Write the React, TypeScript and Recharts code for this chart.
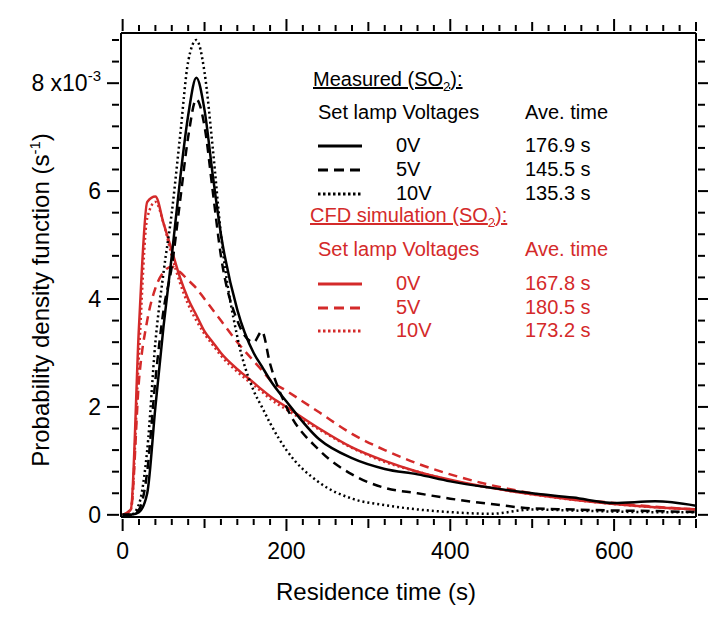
import { LineChart, Line, XAxis, YAxis } from "recharts";

const times = [0, 10, 20, 30, 40, 50, 60, 70, 80, 90, 100, 110, 120, 140, 160, 170, 180, 200, 240, 280, 320, 360, 400, 450, 500, 550, 600, 650, 700];
const meas0V = [0, 0, 0.05, 0.4, 2, 3.5, 4.8, 6.2, 7.4, 8.1, 7.5, 6.3, 5.2, 3.8, 3.0, 2.75, 2.5, 2.1, 1.4, 1.05, 0.85, 0.75, 0.62, 0.5, 0.4, 0.32, 0.22, 0.25, 0.17];
const meas5V = [0, 0, 0.1, 0.8, 2.5, 3.8, 4.6, 5.8, 7.0, 7.7, 7.2, 6.0, 4.8, 3.6, 3.2, 3.4, 2.8, 2.0, 1.2, 0.75, 0.5, 0.4, 0.3, 0.2, 0.12, 0.1, 0.08, 0.07, 0.05];
const meas10V = [0, 0, 0.2, 1.2, 3.2, 4.5, 5.6, 7.0, 8.4, 8.8, 8.2, 6.8, 5.2, 3.3, 2.3, 2.0, 1.7, 1.2, 0.6, 0.3, 0.18, 0.1, 0.05, 0.02, 0.1, 0.08, 0.06, 0.05, 0.05];
const cfd0V = [0, 0.1, 3.5, 5.8, 5.9, 5.4, 4.9, 4.4, 4.0, 3.7, 3.4, 3.2, 3.0, 2.7, 2.45, 2.32, 2.2, 2.0, 1.6, 1.25, 1.0, 0.8, 0.65, 0.5, 0.38, 0.28, 0.2, 0.14, 0.1];
const cfd5V = [0, 0.1, 2.5, 3.6, 4.2, 4.5, 4.6, 4.5, 4.35, 4.2, 4.0, 3.8, 3.6, 3.2, 2.85, 2.68, 2.5, 2.3, 1.9, 1.5, 1.2, 0.95, 0.75, 0.55, 0.4, 0.3, 0.22, 0.15, 0.1];
const cfd10V = [0, 0.1, 3.0, 5.5, 5.8, 5.4, 4.8, 4.3, 3.9, 3.6, 3.35, 3.15, 2.95, 2.65, 2.4, 2.28, 2.15, 1.95, 1.58, 1.24, 0.98, 0.8, 0.64, 0.5, 0.38, 0.28, 0.2, 0.14, 0.1];

const xTicks = Array.from({ length: 36 }, (_, i) => i * 20);
const yTicks = Array.from({ length: 23 }, (_, i) => Math.round(i * 4) / 10);
const xLabels = [0, 200, 400, 600];
const yLabels = [0, 2, 4, 6, 8];

const data = times.map((t, i) => ({
  t,
  meas0V: meas0V[i],
  meas5V: meas5V[i],
  meas10V: meas10V[i],
  cfd0V: cfd0V[i],
  cfd5V: cfd5V[i],
  cfd10V: cfd10V[i],
}));

const RED = "#d42a2a";
const FONT = "'Liberation Sans', Arial, sans-serif";

const XTick = ({ x, y, payload, top }: any) => {
  const v = payload.value;
  const len = v % 200 === 0 ? 12 : v % 100 === 0 ? 9 : 6;
  const d = top ? -1 : 1;
  return (
    <g>
      <line x1={x} x2={x} y1={y} y2={y + d * len} stroke="#000" strokeWidth={2} />
      {!top && xLabels.includes(v) && (
        <text x={x} y={y + 40} textAnchor="middle" fontSize={23} fontFamily={FONT}>
          {v}
        </text>
      )}
    </g>
  );
};

const YTick = ({ x, y, payload, right }: any) => {
  const v = payload.value;
  const major = Math.abs(v % 2) < 1e-6;
  const len = major ? 12 : 7;
  const d = right ? 1 : -1;
  return (
    <g>
      <line x1={x} x2={x + d * len} y1={y} y2={y} stroke="#000" strokeWidth={2} />
      {!right && yLabels.includes(v) && (
        <text x={x - 18} y={y + 8} textAnchor="end" fontSize={23} fontFamily={FONT}>
          {v === 8 ? (
            <>
              8 x10<tspan dy={-10} fontSize={15}>-3</tspan>
            </>
          ) : (
            v
          )}
        </text>
      )}
    </g>
  );
};

const Row = ({ y, color, dash, v, t }: any) => (
  <div style={{ position: "absolute", top: y, left: 0, width: 700, height: 24, whiteSpace: "nowrap" }}>
    <svg style={{ position: "absolute", left: 310, top: 0 }} width={44} height={24}>
      <line x1={0} x2={44} y1={12} y2={12} stroke={color} strokeWidth={3} strokeDasharray={dash} />
    </svg>
    <span style={{ position: "absolute", left: 388 }}>{v}</span>
    <span style={{ position: "absolute", left: 517 }}>{t}</span>
  </div>
);

const axisLine = { stroke: "#000", strokeWidth: 2 };

export default function App() {
  return (
    <div style={{ position: "relative", width: 700, height: 610, fontFamily: FONT, background: "#fff" }}>
      <LineChart width={700} height={610} data={data} margin={{ top: 24, right: 11, bottom: 100, left: 112 }}>
        <XAxis dataKey="t" type="number" domain={[-2, 700]} ticks={xTicks} tick={<XTick />} tickLine={false} tickSize={0} height={1} axisLine={axisLine} interval={0} allowDataOverflow />
        <XAxis xAxisId="top" orientation="top" dataKey="t" type="number" domain={[-2, 700]} ticks={xTicks} tick={<XTick top />} tickLine={false} tickSize={0} height={1} axisLine={axisLine} interval={0} allowDataOverflow />
        <YAxis type="number" domain={[-0.04, 8.93]} ticks={yTicks} tick={<YTick />} tickLine={false} tickSize={0} width={1} axisLine={axisLine} interval={0} allowDataOverflow />
        <YAxis yAxisId="right" orientation="right" type="number" domain={[-0.04, 8.93]} ticks={yTicks} tick={<YTick right />} tickLine={false} tickSize={0} width={1} axisLine={axisLine} interval={0} allowDataOverflow />
        <Line dataKey="cfd5V" stroke={RED} strokeWidth={2.5} strokeDasharray="9 6" dot={false} type="monotone" isAnimationActive={false} />
        <Line dataKey="cfd10V" stroke={RED} strokeWidth={2.5} strokeDasharray="2 3" dot={false} type="monotone" isAnimationActive={false} />
        <Line dataKey="cfd0V" stroke={RED} strokeWidth={2.5} dot={false} type="monotone" isAnimationActive={false} />
        <Line dataKey="meas5V" stroke="#000" strokeWidth={2.5} strokeDasharray="9 6" dot={false} type="monotone" isAnimationActive={false} />
        <Line dataKey="meas10V" stroke="#000" strokeWidth={2.5} strokeDasharray="2 3" dot={false} type="monotone" isAnimationActive={false} />
        <Line dataKey="meas0V" stroke="#000" strokeWidth={2.5} dot={false} type="monotone" isAnimationActive={false} />
      </LineChart>

      <div style={{ position: "absolute", left: 0, top: 0, width: 700, height: 610, fontSize: 20, pointerEvents: "none", whiteSpace: "nowrap" }}>
        <div style={{ position: "absolute", top: 60, left: 305, textDecoration: "underline" }}>
          Measured (SO<sub style={{ fontSize: 13 }}>2</sub>):
        </div>
        <div style={{ position: "absolute", top: 93, left: 310 }}>Set lamp Voltages</div>
        <div style={{ position: "absolute", top: 93, left: 517 }}>Ave. time</div>
        <Row y={126} color="#000" dash="" v="0V" t="176.9 s" />
        <Row y={150} color="#000" dash="10 6" v="5V" t="145.5 s" />
        <Row y={174} color="#000" dash="2.5 2.5" v="10V" t="135.3 s" />
        <div style={{ color: RED }}>
          <div style={{ position: "absolute", top: 196, left: 302, textDecoration: "underline" }}>
            CFD simulation (SO<sub style={{ fontSize: 13 }}>2</sub>):
          </div>
          <div style={{ position: "absolute", top: 230, left: 310 }}>Set lamp Voltages</div>
          <div style={{ position: "absolute", top: 230, left: 517 }}>Ave. time</div>
          <Row y={264} color={RED} dash="" v="0V" t="167.8 s" />
          <Row y={288} color={RED} dash="10 6" v="5V" t="180.5 s" />
          <Row y={311} color={RED} dash="2.5 2.5" v="10V" t="173.2 s" />
        </div>
        <div style={{ position: "absolute", left: 268, top: 570, fontSize: 24 }}>Residence time (s)</div>
        <div style={{ position: "absolute", left: 32, top: 292, width: 0, height: 0 }}>
          <div style={{ position: "absolute", transform: "translate(-50%, -50%) rotate(-90deg)", whiteSpace: "nowrap", fontSize: 24 }}>
            Probability density function (s<sup style={{ fontSize: 15 }}>-1</sup>)
          </div>
        </div>
      </div>
    </div>
  );
}
